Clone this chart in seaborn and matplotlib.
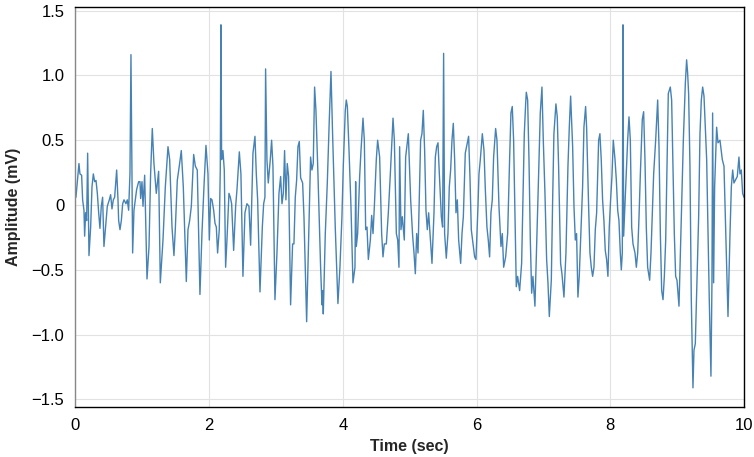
import pandas as pd
import seaborn as sns
import matplotlib.pyplot as plt
from matplotlib.ticker import FuncFormatter

# ECG trace, one row per second
time_s = [
  0.007,0.027,0.052,0.067,0.092,0.107,0.127,0.137,0.152,0.167,0.182,0.202,0.227,0.247,0.267,0.287,0.307,0.327,0.347,0.366,0.386,0.406,0.426,0.451,0.476,0.506,0.526,0.546,0.566,0.586,0.616,0.636,0.646,0.666,0.686,0.706,0.726,0.755,0.775,0.795,0.815,0.830,0.855,0.875,0.895,0.915,0.945,0.965,0.975,0.995,
  1.010,1.035,1.070,1.100,1.124,1.149,1.174,1.209,1.244,1.269,1.309,1.344,1.384,1.409,1.444,1.473,1.493,1.523,1.558,1.583,1.613,1.658,1.683,1.708,1.733,1.768,1.793,1.822,1.862,1.892,1.922,1.952,1.982,2.002,2.022,2.042,
  2.067,2.087,2.107,2.126,2.151,2.166,2.176,2.186,2.206,2.226,2.246,2.266,2.296,2.316,2.336,2.366,2.396,2.416,2.451,2.475,2.505,2.535,2.565,2.595,2.620,2.655,2.685,2.705,2.725,2.760,2.795,2.815,2.834,2.844,2.864,2.884,2.914,2.934,2.954,2.984,3.014,3.044,
  3.069,3.089,3.109,3.128,3.148,3.168,3.188,3.218,3.248,3.268,3.288,3.308,3.328,3.348,3.368,3.398,3.418,3.458,3.487,3.517,3.537,3.557,3.577,3.597,3.627,3.667,3.687,3.697,3.707,3.737,3.767,3.797,3.822,3.846,3.886,3.926,3.956,3.986,4.006,4.036,4.051,
  4.067,4.092,4.121,4.151,4.181,4.191,4.201,4.221,4.251,4.271,4.301,4.321,4.341,4.361,4.381,4.411,4.431,4.451,4.471,4.500,4.520,4.550,4.580,4.600,4.620,4.650,4.680,4.710,4.750,4.770,4.800,4.820,4.839,4.849,4.869,4.889,4.919,4.939,4.979,
  5.014,5.044,5.064,5.084,5.104,5.124,5.143,5.163,5.183,5.203,5.223,5.243,5.263,5.283,5.303,5.333,5.363,5.383,5.403,5.423,5.443,5.473,5.492,5.507,5.522,5.547,5.572,5.592,5.612,5.632,5.652,5.672,5.692,5.712,5.732,5.762,5.782,5.802,5.831,5.861,5.881,5.901,5.921,5.951,5.971,5.991,6.021,
  6.036,6.056,6.086,6.111,6.131,6.155,6.175,6.195,6.215,6.235,6.255,6.285,6.305,6.335,6.365,6.385,6.405,6.435,6.465,6.494,6.514,6.534,6.554,6.574,6.594,6.614,6.644,6.674,6.694,6.714,6.734,6.744,6.764,6.784,6.804,6.824,6.843,6.873,6.893,6.923,6.953,6.978,
  6.998,7.023,7.048,7.068,7.088,7.118,7.138,7.157,7.187,7.207,7.227,7.257,7.277,7.307,7.337,7.367,7.387,7.407,7.437,7.457,7.477,7.496,7.516,7.536,7.556,7.586,7.606,7.631,7.646,7.676,7.696,7.716,7.736,7.756,7.776,7.796,7.826,7.845,7.865,7.885,7.905,7.925,7.945,7.965,7.985,8.005,8.025,8.045,
  8.071,8.091,8.111,8.130,8.150,8.165,8.180,8.190,8.200,8.230,8.260,8.280,8.300,8.320,8.340,8.370,8.390,8.410,8.430,8.450,8.479,8.499,8.519,8.539,8.559,8.589,8.609,8.629,8.649,8.679,8.709,8.729,8.749,8.769,8.789,8.809,8.829,8.848,8.868,8.898,8.918,8.938,8.958,8.978,8.998,9.028,
  9.063,9.093,9.123,9.142,9.157,9.172,9.192,9.212,9.237,9.252,9.272,9.302,9.322,9.342,9.362,9.382,9.402,9.422,9.442,9.462,9.481,9.506,9.521,9.531,9.546,9.561,9.591,9.611,9.641,9.676,9.701,9.726,9.761,9.791,9.811,9.831,9.850,9.870,9.900,9.925,9.940,9.960,9.980,10.0,
]
amp_mv = [
  0.06,0.18,0.32,0.24,0.23,0.04,-0.04,-0.24,-0.06,-0.12,0.40,-0.39,-0.17,0.14,0.24,0.18,0.19,0.09,-0.06,-0.18,-0.01,0.06,-0.32,-0.17,-0.01,0.04,0.08,-0.03,0.04,0.06,0.27,0.04,-0.12,-0.19,-0.12,0.01,0.04,0.01,0.04,-0.04,0.24,1.16,-0.37,-0.04,0.04,0.12,0.18,0.18,0.05,0.18,
  -0.01,0.23,-0.57,-0.32,0.24,0.59,0.32,0.09,0.26,-0.60,-0.27,0.14,0.45,0.35,-0.17,-0.39,-0.19,0.19,0.32,0.42,0.14,-0.59,-0.19,-0.12,-0.01,0.39,0.30,0.27,-0.69,-0.22,0.14,0.46,0.24,-0.27,0.05,0.04,
  -0.04,-0.14,-0.17,-0.37,-0.19,0.27,1.39,0.35,0.42,0.27,-0.48,-0.27,0.09,0.06,0.01,-0.35,-0.01,0.12,0.41,0.24,-0.55,-0.06,0.01,-0.01,-0.31,0.40,0.53,0.24,0.04,-0.67,-0.17,0.01,0.06,1.05,0.35,0.17,0.35,0.50,0.30,-0.73,-0.37,0.09,
  0.22,0.01,0.09,0.42,0.04,0.32,0.22,-0.77,-0.30,-0.30,0.06,0.19,0.45,0.49,0.21,0.17,-0.09,-0.90,-0.27,0.37,0.27,0.32,0.91,0.73,0.24,-0.48,-0.77,-0.66,-0.84,-0.22,0.17,0.66,1.03,0.55,-0.17,-0.76,-0.48,-0.09,0.30,0.73,0.81,
  0.76,0.42,-0.01,-0.60,-0.48,0.18,-0.32,-0.22,0.22,0.42,0.67,0.50,-0.19,-0.17,-0.42,-0.27,-0.08,-0.22,-0.01,0.35,0.50,0.37,-0.22,-0.40,-0.30,-0.30,-0.06,0.24,0.67,0.50,-0.22,-0.27,-0.48,0.45,-0.19,-0.09,-0.27,0.37,0.55,
  0.04,-0.24,-0.37,-0.53,-0.22,-0.37,0.04,0.50,0.55,0.73,0.42,-0.04,-0.19,-0.06,-0.22,-0.45,-0.06,0.37,0.45,0.48,0.24,-0.09,-0.17,1.17,-0.22,-0.41,-0.22,0.14,0.27,0.50,0.63,0.35,-0.06,0.04,-0.27,-0.45,-0.22,-0.09,0.40,0.48,0.53,0.22,-0.19,-0.32,-0.40,-0.42,-0.01,
  0.24,0.35,0.55,0.42,0.12,-0.17,-0.27,-0.40,-0.06,0.04,0.37,0.59,0.50,-0.01,-0.32,-0.22,-0.48,-0.40,-0.22,0.35,0.71,0.76,0.50,-0.06,-0.63,-0.55,-0.66,-0.45,0.04,0.55,0.78,0.87,0.81,0.35,-0.27,-0.68,-0.55,-0.78,-0.42,0.14,0.71,0.91,
  0.50,0.09,-0.42,-0.60,-0.86,-0.58,0.04,0.55,0.78,0.68,0.30,-0.45,-0.53,-0.71,-0.37,0.30,0.60,0.84,0.45,-0.01,-0.27,-0.22,-0.71,-0.55,-0.27,0.14,0.60,0.76,0.60,-0.01,-0.37,-0.48,-0.55,-0.48,-0.19,-0.06,0.50,0.55,0.35,0.04,-0.12,-0.35,-0.42,-0.55,-0.17,0.04,0.22,0.50,
  0.35,0.19,-0.04,-0.12,-0.37,-0.50,-0.37,1.39,-0.24,0.14,0.50,0.68,0.50,-0.17,-0.30,-0.37,-0.48,-0.37,-0.09,0.24,0.66,0.72,0.35,-0.17,-0.48,-0.58,-0.37,-0.06,0.24,0.50,0.81,0.45,-0.22,-0.66,-0.73,-0.55,-0.27,0.30,0.86,0.91,0.81,0.30,-0.22,-0.55,-0.58,-0.78,
  -0.09,0.50,0.94,1.12,1.02,0.86,0.30,-0.73,-1.41,-1.12,-1.07,-0.48,-0.09,0.55,0.81,0.91,0.84,0.60,0.35,-0.22,-0.73,-1.32,-0.60,0.71,-0.60,0.14,0.60,0.48,0.50,0.35,0.30,-0.19,-0.86,-0.22,0.14,0.27,0.17,0.19,0.22,0.37,0.24,0.27,0.09,0.06,
]
x_ticks = [0, 2, 4, 6, 8, 10]
y_ticks = [-1.5, -1.0, -0.5, 0, 0.5, 1.0, 1.5]

df = pd.DataFrame({'time': time_s, 'amp': amp_mv})

sns.set_theme(style="white")
plt.rcParams['font.family'] = ['Liberation Sans', 'DejaVu Sans']

fig = plt.figure(figsize=(7.54, 4.57), dpi=100)
ax = fig.add_axes([0.1001, 0.1088, 0.8866, 0.8752])

sns.lineplot(data=df, x='time', y='amp', ax=ax, color='#4682b4',
             linewidth=1.0, estimator=None, sort=False)

ax.set_xlim(0, 10)
ax.set_ylim(-1.56, 1.525)
ax.set_xticks(x_ticks)
ax.set_yticks(y_ticks)

def fmt(v, pos):
  if v == 0:
    return '0'
  return f'{v:.1f}'.replace('-', '\u2212')

ax.yaxis.set_major_formatter(FuncFormatter(fmt))
ax.grid(True, color='#e2e2e2', linewidth=0.8)
ax.set_axisbelow(True)

for side in ['top', 'right', 'bottom']:
  ax.spines[side].set_color('#000000')
  ax.spines[side].set_linewidth(1)
ax.spines['left'].set_color('#888888')
ax.spines['left'].set_linewidth(1)

ax.tick_params(axis='both', direction='out', length=5, width=1, color='#888888',
               labelsize=12, pad=3, labelcolor='#000000')
ax.set_xlabel('Time (sec)', fontweight='bold', fontsize=11.5, labelpad=4)
ax.set_ylabel('Amplitude (mV)', fontweight='bold', fontsize=11.5, labelpad=8)

fig.savefig('out.png', dpi=100)
